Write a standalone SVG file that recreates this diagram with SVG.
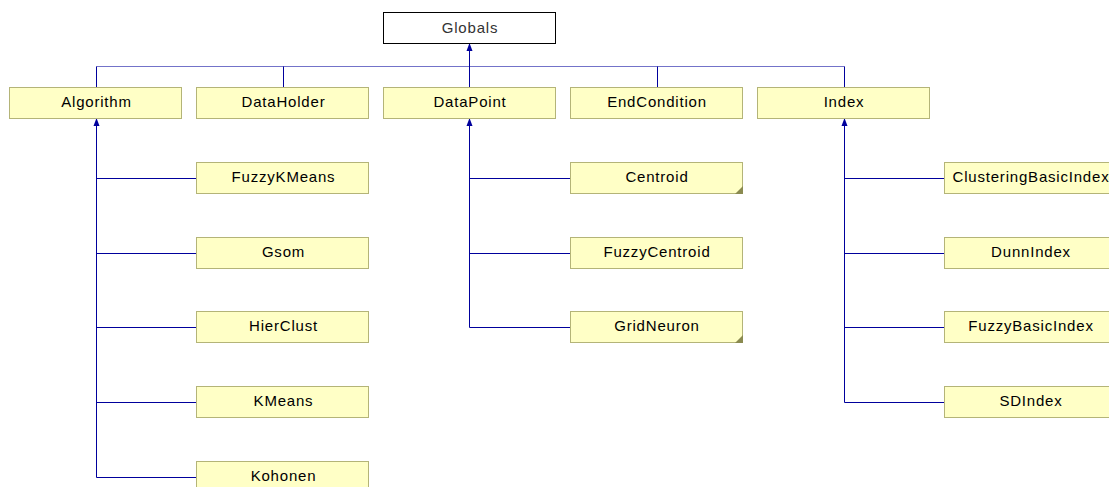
<svg xmlns="http://www.w3.org/2000/svg" width="1109" height="487" viewBox="0 0 1109 487">
<defs>
<style>
.n{fill:#ffffc6;stroke:#b4b478;stroke-width:1}
.g{fill:#ffffff;stroke:#000000;stroke-width:1}
.t{font-family:"Liberation Sans",Arial,sans-serif;font-size:15px;letter-spacing:0.8px;fill:#000000;text-anchor:middle}
.tg{font-family:"Liberation Sans",Arial,sans-serif;font-size:15px;letter-spacing:0.8px;fill:#333333;text-anchor:middle}
.c{fill:none;stroke:#00009c;stroke-width:1}
.ch{fill:none;stroke:#00009c;stroke-width:1;opacity:0.55}
.a{fill:#00009c}
.k{fill:#8a8a50}
</style>
</defs>
<rect width="1109" height="487" fill="#ffffff"/>
<g id="connectors">
<path class="ch" d="M96.5 66.5H844.5"/>
<path class="c" d="M96.5 66.5V87M283.5 66.5V87M657.5 66.5V87M844.5 66.5V87M469.5 87V44"/>
<polygon class="a" points="469.5,43 466.5,51 472.5,51"/>
<path class="c" d="M96.5 119V477.5M96.5 178.5H196M96.5 253.5H196M96.5 327.5H196M96.5 402.5H196M96.5 477.5H196"/>
<polygon class="a" points="96.5,118 93.5,126 99.5,126"/>
<path class="c" d="M469.5 119V327.5M469.5 178.5H570M469.5 253.5H570M469.5 327.5H570"/>
<polygon class="a" points="469.5,118 466.5,126 472.5,126"/>
<path class="c" d="M844.5 119V402.5M844.5 178.5H944M844.5 253.5H944M844.5 327.5H944M844.5 402.5H944"/>
<polygon class="a" points="844.5,118 841.5,126 847.5,126"/>
</g>
<g id="Globals"><rect class="g" x="383.5" y="12.5" width="172" height="31"/><text class="tg" x="470" y="33">Globals</text></g>
<g id="Algorithm"><rect class="n" x="9.5" y="87.5" width="172" height="31"/><text class="t" x="96.5" y="107">Algorithm</text></g>
<g id="DataHolder"><rect class="n" x="196.5" y="87.5" width="172" height="31"/><text class="t" x="283.5" y="107">DataHolder</text></g>
<g id="DataPoint"><rect class="n" x="383.5" y="87.5" width="172" height="31"/><text class="t" x="470" y="107">DataPoint</text></g>
<g id="EndCondition"><rect class="n" x="570.5" y="87.5" width="172" height="31"/><text class="t" x="657" y="107">EndCondition</text></g>
<g id="Index"><rect class="n" x="757.5" y="87.5" width="172" height="31"/><text class="t" x="844" y="107">Index</text></g>
<g id="FuzzyKMeans"><rect class="n" x="196.5" y="162.5" width="172" height="31"/><text class="t" x="283.5" y="182">FuzzyKMeans</text></g>
<g id="Gsom"><rect class="n" x="196.5" y="237.5" width="172" height="31"/><text class="t" x="283.5" y="257">Gsom</text></g>
<g id="HierClust"><rect class="n" x="196.5" y="311.5" width="172" height="31"/><text class="t" x="283.5" y="331">HierClust</text></g>
<g id="KMeans"><rect class="n" x="196.5" y="386.5" width="172" height="31"/><text class="t" x="283.5" y="406">KMeans</text></g>
<g id="Kohonen"><rect class="n" x="196.5" y="461.5" width="172" height="31"/><text class="t" x="283.5" y="481">Kohonen</text></g>
<g id="Centroid"><rect class="n" x="570.5" y="162.5" width="172" height="31"/><polygon class="k" points="743,186 743,194 735,194"/><text class="t" x="657" y="182">Centroid</text></g>
<g id="FuzzyCentroid"><rect class="n" x="570.5" y="237.5" width="172" height="31"/><text class="t" x="657" y="257">FuzzyCentroid</text></g>
<g id="GridNeuron"><rect class="n" x="570.5" y="311.5" width="172" height="31"/><polygon class="k" points="743,335 743,343 735,343"/><text class="t" x="657" y="331">GridNeuron</text></g>
<g id="ClusteringBasicIndex"><rect class="n" x="944.5" y="162.5" width="172" height="31"/><text class="t" x="1031" y="182">ClusteringBasicIndex</text></g>
<g id="DunnIndex"><rect class="n" x="944.5" y="237.5" width="172" height="31"/><text class="t" x="1031" y="257">DunnIndex</text></g>
<g id="FuzzyBasicIndex"><rect class="n" x="944.5" y="311.5" width="172" height="31"/><text class="t" x="1031" y="331">FuzzyBasicIndex</text></g>
<g id="SDIndex"><rect class="n" x="944.5" y="386.5" width="172" height="31"/><text class="t" x="1031" y="406">SDIndex</text></g>
</svg>
